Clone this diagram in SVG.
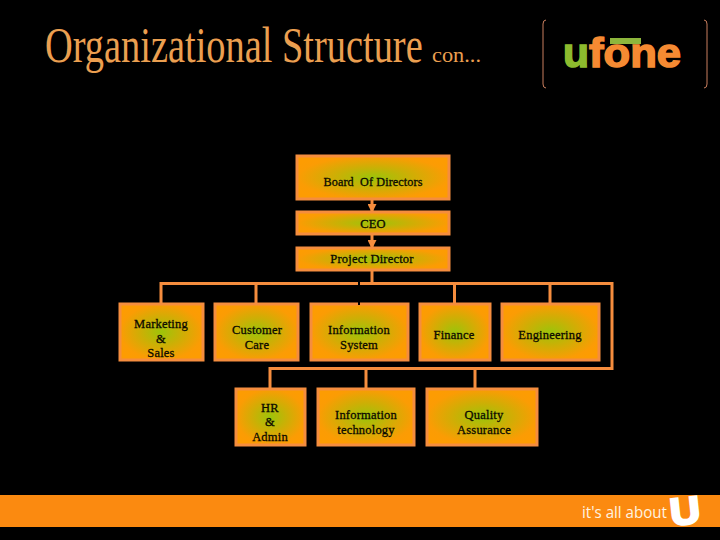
<svg xmlns="http://www.w3.org/2000/svg" width="720" height="540" viewBox="0 0 720 540">
<style>
.box{fill:url(#g);stroke:#f58d3e;stroke-width:3}
.lbl{font-family:"Liberation Serif",serif;font-size:12.5px;letter-spacing:.2px;fill:#0c0a00;text-anchor:middle;stroke:#0c0a00;stroke-width:.3}
.ln{fill:none;stroke:#f58d3e;stroke-width:3}
.title{font-family:"Liberation Serif",serif;fill:#eb9f50}
.br{fill:none;stroke:#c97f5f;stroke-width:1}
</style>
<defs>
<radialGradient id="g" cx="50%" cy="50%" r="58%">
<stop offset="0" stop-color="#9cc40a"/><stop offset=".45" stop-color="#cfae05"/><stop offset=".85" stop-color="#fb9c04"/><stop offset="1" stop-color="#fd9c02"/>
</radialGradient>
<marker id="a" markerWidth="9" markerHeight="9" refX="9" refY="4.500" orient="auto" markerUnits="userSpaceOnUse"><path d="M0 0L9 4.500L0 9z" fill="#f58d3e"/></marker>
</defs>
<rect width="720" height="540" fill="#000"/>
<g id="title">
<text class="title" transform="translate(45 62) scale(.768 1)" font-size="50">Organizational Structure</text>
<text class="title" x="432" y="62" font-size="20" textLength="49" lengthAdjust="spacingAndGlyphs">con...</text>
</g>
<g id="logo">
<path class="br" d="M546 20Q543 20 543 24V84Q543 88 546 88"/>
<path class="br" d="M704 20Q707 20 707 24V84Q707 88 704 88"/>
<rect x="610" y="38" width="31" height="6" fill="#8db63c"/>
<text x="563" y="67" font-family="Liberation Sans,sans-serif" font-size="40" font-weight="700" fill="#8dbb2e" stroke="#8dbb2e" stroke-width="1.500" textLength="26" lengthAdjust="spacingAndGlyphs">u</text>
<text x="589" y="67" font-family="Liberation Sans,sans-serif" font-size="40" font-weight="700" fill="#f58a32" stroke="#f58a32" stroke-width="1.500" textLength="92" lengthAdjust="spacingAndGlyphs">fone</text>
</g>
<g id="board"><rect class="box" x="297" y="156" width="152" height="43"/><text class="lbl" x="373" y="186" xml:space="preserve" style="font-size:12.2px;letter-spacing:.1px">Board  Of Directors</text></g>
<g id="ceo"><rect class="box" x="297" y="212" width="152" height="22"/><text class="lbl" x="373" y="228">CEO</text></g>
<g id="project-director"><rect class="box" x="297" y="248" width="152" height="22"/><text class="lbl" x="372" y="263">Project Director</text></g>
<g id="marketing"><rect class="box" x="120" y="304" width="83" height="56"/><text class="lbl" x="161" y="328">Marketing</text><text class="lbl" x="161" y="343">&amp;</text><text class="lbl" x="161" y="357">Sales</text></g>
<g id="customer-care"><rect class="box" x="215" y="304" width="83" height="56"/><text class="lbl" x="257" y="334">Customer</text><text class="lbl" x="257" y="349">Care</text></g>
<g id="information-system"><rect class="box" x="311" y="304" width="97" height="56"/><text class="lbl" x="359" y="334">Information</text><text class="lbl" x="359" y="349">System</text></g>
<g id="finance"><rect class="box" x="420" y="304" width="70" height="56"/><text class="lbl" x="454" y="339">Finance</text></g>
<g id="engineering"><rect class="box" x="502" y="304" width="97" height="56"/><text class="lbl" x="550" y="339">Engineering</text></g>
<g id="hr-admin"><rect class="box" x="236" y="389" width="69" height="56"/><text class="lbl" x="270" y="412">HR</text><text class="lbl" x="270" y="426">&amp;</text><text class="lbl" x="270" y="441">Admin</text></g>
<g id="information-technology"><rect class="box" x="318" y="389" width="96" height="56"/><text class="lbl" x="366" y="419">Information</text><text class="lbl" x="366" y="434">technology</text></g>
<g id="quality-assurance"><rect class="box" x="427" y="389" width="110" height="56"/><text class="lbl" x="484" y="419">Quality</text><text class="lbl" x="484" y="434">Assurance</text></g>
<g id="connectors">
<path class="ln" d="M372 199V213" marker-end="url(#a)"/>
<path class="ln" d="M372 234V249" marker-end="url(#a)"/>
<path class="ln" d="M372 271V283"/>
<path class="ln" d="M161 303V283.500H612V368.500H270V388"/>
<path class="ln" d="M256 283.500V303M454.500 283.500V303M550 283.500V303M366 368.500V388M475 368.500V388"/>
<path d="M359 282V305" fill="none" stroke="#000" stroke-width="2" stroke-dasharray="3 2"/>
</g>
<g id="footer">
<rect x="0" y="495" width="720" height="32" fill="#fb8a10"/>
<text x="582" y="518" font-family="Open Sans,sans-serif" font-size="16" fill="#fff3e0" textLength="85" lengthAdjust="spacingAndGlyphs">it's all about</text>
<text x="670" y="524" font-family="Liberation Sans,sans-serif" font-size="38" font-weight="700" fill="#fff" stroke="#fff" stroke-width="2.500" transform="rotate(-6 685 510)" textLength="30" lengthAdjust="spacingAndGlyphs">U</text>
</g>
</svg>
